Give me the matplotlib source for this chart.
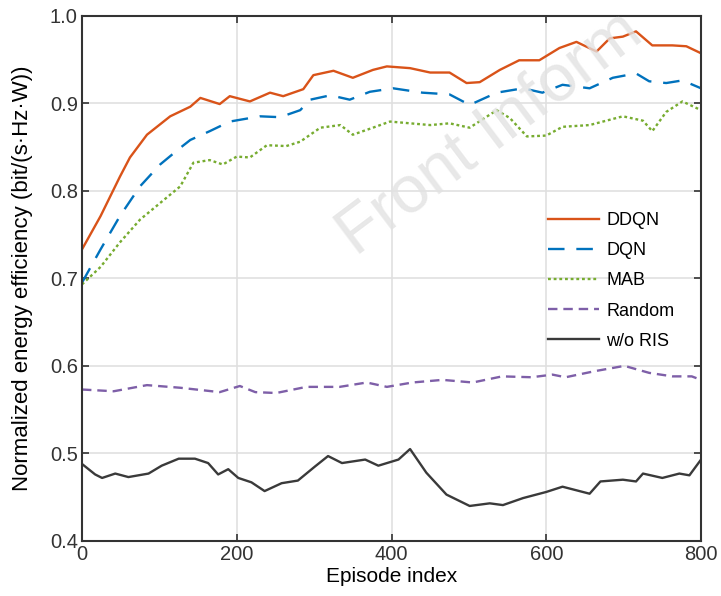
import matplotlib.pyplot as plt

plt.rcParams['font.family'] = ['Liberation Sans', 'DejaVu Sans']

# episode index / value pairs
ep_ddqn = [0, 24, 49, 62, 84, 114, 140, 153, 178, 191, 217, 243, 260, 286, 299, 325, 350, 376, 394,
           424, 450, 475, 497, 514, 540, 565, 591, 617, 639, 665, 682, 699, 716, 737, 763, 781, 800]
ddqn = [0.733, 0.771, 0.816, 0.838, 0.864, 0.885, 0.896, 0.906, 0.899, 0.908, 0.902, 0.912, 0.908, 0.916,
        0.932, 0.937, 0.929, 0.938, 0.942, 0.940, 0.935, 0.935, 0.923, 0.924, 0.938, 0.949, 0.949, 0.963,
        0.970, 0.959, 0.974, 0.976, 0.982, 0.966, 0.966, 0.965, 0.957]

ep_dqn = [0, 24, 49, 75, 101, 127, 140, 165, 191, 230, 256, 282, 295, 321, 346, 372, 402, 440, 475,
          501, 536, 570, 595, 621, 656, 686, 716, 733, 755, 776, 800]
dqn = [0.695, 0.733, 0.771, 0.805, 0.830, 0.849, 0.858, 0.868, 0.879, 0.885, 0.884, 0.892, 0.904, 0.909,
       0.904, 0.913, 0.917, 0.912, 0.910, 0.898, 0.912, 0.917, 0.912, 0.921, 0.917, 0.929, 0.934, 0.925,
       0.923, 0.926, 0.917]

ep_mab = [0, 24, 49, 75, 101, 127, 144, 165, 182, 200, 217, 239, 264, 282, 308, 334, 350, 376, 398,
          424, 450, 475, 501, 536, 553, 575, 600, 621, 656, 699, 725, 737, 755, 776, 800]
mab = [0.693, 0.713, 0.741, 0.767, 0.786, 0.805, 0.832, 0.835, 0.830, 0.839, 0.838, 0.852, 0.851, 0.856,
       0.872, 0.875, 0.864, 0.872, 0.879, 0.877, 0.875, 0.877, 0.872, 0.892, 0.883, 0.862, 0.863, 0.873,
       0.875, 0.885, 0.880, 0.868, 0.890, 0.902, 0.892]

ep_rand = [0, 41, 84, 127, 178, 204, 224, 251, 290, 333, 368, 394, 427, 466, 505, 543, 581, 608, 625,
           663, 701, 733, 763, 788, 800]
rand = [0.573, 0.571, 0.578, 0.575, 0.570, 0.577, 0.570, 0.569, 0.576, 0.576, 0.581, 0.576, 0.581, 0.584,
        0.581, 0.588, 0.587, 0.590, 0.587, 0.594, 0.600, 0.592, 0.588, 0.588, 0.584]

ep_noris = [0, 17, 26, 43, 60, 86, 103, 125, 146, 163, 176, 189, 202, 219, 236, 258, 279, 301, 318, 336,
            366, 383, 409, 424, 445, 471, 501, 527, 544, 570, 600, 621, 656, 670, 699, 716, 725, 750,
            772, 785, 800]
noris = [0.488, 0.476, 0.472, 0.477, 0.473, 0.477, 0.486, 0.494, 0.494, 0.489, 0.476, 0.482, 0.472, 0.467,
         0.457, 0.466, 0.469, 0.485, 0.497, 0.489, 0.493, 0.486, 0.493, 0.505, 0.478, 0.453, 0.440, 0.443,
         0.441, 0.449, 0.456, 0.462, 0.454, 0.468, 0.470, 0.468, 0.477, 0.472, 0.477, 0.475, 0.493]

fig = plt.figure(figsize=(7.21, 5.96), dpi=100)
ax = fig.add_axes([0.1137, 0.0923, 0.8586, 0.8815])

ax.plot(ep_ddqn, ddqn, color="#D95319", lw=1.7, label="DDQN")
ax.plot(ep_dqn, dqn, color="#0072BD", lw=1.7, dashes=(7, 5), label="DQN")
ax.plot(ep_mab, mab, color="#77AC30", lw=1.7, ls=(0, (1.2, 1.2)), label="MAB")
ax.plot(ep_rand, rand, color="#7E5FA8", lw=1.7, ls=(0, (4, 2.5)), label="Random")
ax.plot(ep_noris, noris, color="#3A3A3A", lw=1.7, label="w/o RIS")

ax.set_xlim(0, 800)
ax.set_ylim(0.4, 1.0)
ax.set_xticks([0, 200, 400, 600, 800])
ax.set_yticks([0.4, 0.5, 0.6, 0.7, 0.8, 0.9, 1.0])
ax.set_yticklabels(["0.4", "0.5", "0.6", "0.7", "0.8", "0.9", "1.0"])
ax.grid(True, color="#E0E0E0", lw=1.2)
ax.set_axisbelow(True)
ax.tick_params(direction="in", top=True, right=True, labelsize=14.5, length=5, width=1.2,
               colors="#333333", pad=3)
for s in ax.spines.values():
    s.set_color("#333333")
    s.set_linewidth(1.5)

ax.set_xlabel("Episode index", fontsize=15, labelpad=2)
ax.set_ylabel("Normalized energy efficiency (bit/(s·Hz·W))", fontsize=16, labelpad=12)

ax.legend(loc="upper left", bbox_to_anchor=(0.727, 0.657), frameon=False, fontsize=13,
          handlelength=2.8, labelspacing=0.73, handletextpad=0.4)

fig.text(0.68, 0.775, "Front Inform", fontsize=48, color="#E2E2E2", alpha=0.8,
         rotation=37, ha="center", va="center")

fig.savefig("out.png")
